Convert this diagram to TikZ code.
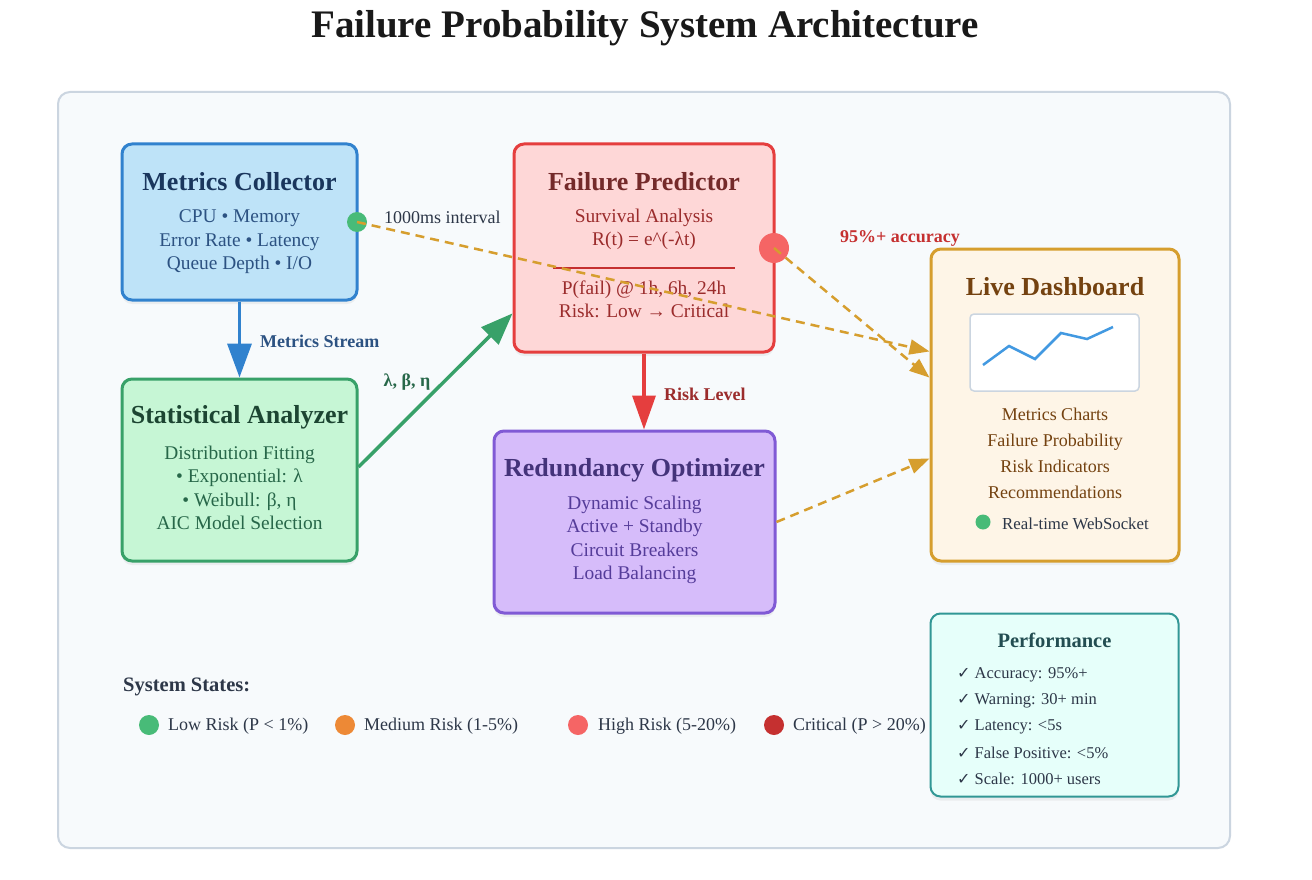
\documentclass[tikz,border=0pt]{standalone}
\usepackage{fontspec}
\setmainfont{Liberation Serif}
\newfontfamily\dvs{DejaVu Sans}
\newcommand\chkmark{{\dvs\fontsize{16}{20}\selectfont ✓}}
\usetikzlibrary{arrows.meta,calc,shadows}
\definecolor{outerF}{HTML}{F7FAFC}
\definecolor{outerS}{HTML}{CBD5E0}
\definecolor{mcF}{HTML}{BEE3F8}\definecolor{mcS}{HTML}{3182CE}\definecolor{mcT}{HTML}{1A365D}\definecolor{mcB}{HTML}{2C5282}
\definecolor{fpF}{HTML}{FED7D7}\definecolor{fpS}{HTML}{E53E3E}\definecolor{fpT}{HTML}{742A2A}\definecolor{fpB}{HTML}{9B2C2C}\definecolor{fpL}{HTML}{C53030}
\definecolor{saF}{HTML}{C6F6D5}\definecolor{saS}{HTML}{38A169}\definecolor{saT}{HTML}{1C4532}\definecolor{saB}{HTML}{276749}
\definecolor{roF}{HTML}{D6BCFA}\definecolor{roS}{HTML}{805AD5}\definecolor{roT}{HTML}{44337A}\definecolor{roB}{HTML}{553C9A}
\definecolor{ldF}{HTML}{FEF5E7}\definecolor{ldS}{HTML}{D69E2E}\definecolor{ldT}{HTML}{744210}
\definecolor{pfF}{HTML}{E6FFFA}\definecolor{pfS}{HTML}{319795}\definecolor{pfT}{HTML}{234E52}
\definecolor{txt}{HTML}{2D3748}
\definecolor{chartS}{HTML}{CBD5E0}\definecolor{chartL}{HTML}{4299E1}
\definecolor{lowC}{HTML}{48BB78}\definecolor{medC}{HTML}{ED8936}\definecolor{highC}{HTML}{F56565}\definecolor{critC}{HTML}{C53030}
\begin{document}
\begin{tikzpicture}[x=1pt,y=-1pt,
  box/.style={line width=3pt, rounded corners=10pt, inner sep=0pt,
    drop shadow={shadow xshift=0pt, shadow yshift=-4pt, opacity=0.10}},
  ttl/.style={font=\bfseries\fontsize{26}{30}\selectfont, inner sep=0pt},
  body/.style={font=\fontsize{19.4}{23.5}\selectfont, align=center, inner sep=0pt},
  lbl/.style={font=\fontsize{18}{22}\selectfont, inner sep=0pt},
  blbl/.style={font=\bfseries\fontsize{18}{22}\selectfont, inner sep=0pt},
  flow/.style={line width=3.5pt},
  dashflow/.style={draw=ldS, line width=2.5pt, dash pattern=on 9pt off 6pt,
    -{Triangle[length=20pt,width=15pt]}},
  dot/.style={circle, inner sep=0pt},
  leg/.style={font=\fontsize{18}{20}\selectfont, inner sep=0pt, anchor=west, text=txt},
  perf/.style={font=\fontsize{16.5}{20}\selectfont, inner sep=0pt, anchor=west, text=txt}
]
\useasboundingbox (0,0) rectangle (1312,880);
\fill[white] (0,0) rectangle (1312,880);

% title
\node[font=\bfseries\fontsize{39}{44}\selectfont, text=black!90, inner sep=0pt] (title) at (645,28) {Failure Probability System Architecture};

% outer container
\node[draw=outerS, fill=outerF, line width=2pt, rounded corners=12pt,
  minimum width=1172pt, minimum height=756pt, inner sep=0pt] (outer) at (644,470) {};

% boxes
\node[box, draw=mcS, fill=mcF, minimum width=235pt, minimum height=156pt] (mc) at (239.5,222) {};
\node[box, draw=fpS, fill=fpF, minimum width=260pt, minimum height=208pt] (fp) at (644,248) {};
\node[box, draw=ldS, fill=ldF, minimum width=248pt, minimum height=312pt] (ld) at (1055,405) {};
\node[box, draw=saS, fill=saF, minimum width=235pt, minimum height=182pt] (sa) at (239.5,470) {};
\node[box, draw=roS, fill=roF, minimum width=281pt, minimum height=182pt] (ro) at (634.5,522) {};
\node[box, draw=pfS, fill=pfF, line width=2pt, minimum width=248pt, minimum height=183pt] (pf) at (1054.5,705) {};

% Metrics Collector text
\node[ttl, text=mcT] (mct) at (239.5,182) {Metrics Collector};
\node[body, text=mcB] (mcb) at (239.5,242) {CPU • Memory\\Error Rate • Latency\\Queue Depth • I/O};

% Failure Predictor text
\node[ttl, text=fpT] (fpt) at (644,182) {Failure Predictor};
\node[body, text=fpB] (fpb1) at (644,229.5) {Survival Analysis\\R(t) = e\^{}(-λt)};
\draw[fpL, line width=2.5pt] (553,268) coordinate (divl) -- (735,268) coordinate (divr);
\node[body, text=fpB] (fpb2) at (644,299.5) {P(fail) @ 1h, 6h, 24h\\Risk: Low → Critical};

% Statistical Analyzer text
\node[ttl, text=saT] (sat) at (239.5,417) {Statistical Analyzer};
\node[body, text=saB] (sab) at (239.5,488) {Distribution Fitting\\• Exponential: λ\\• Weibull: β, η\\AIC Model Selection};

% Redundancy Optimizer text
\node[ttl, text=roT] (rot) at (634.5,470) {Redundancy Optimizer};
\node[body, text=roB] (rob) at (634.5,540) {Dynamic Scaling\\Active + Standby\\Circuit Breakers\\Load Balancing};

% Live Dashboard text
\node[ttl, text=ldT] (ldt) at (1055,287) {Live Dashboard};
\node[draw=chartS, fill=white, line width=1.5pt, rounded corners=4pt, inner sep=0pt,
  minimum width=169pt, minimum height=77pt] (chart) at (1054.5,352.5) {};
\draw[chartL, line width=2.5pt, line join=miter] (983,365) -- (1009,346) -- (1035,359) -- (1061,333) -- (1087,339) -- (1113,327);
\node[font=\fontsize{18}{26}\selectfont, align=center, text=ldT, inner sep=0pt] (ldb) at (1055,453) {Metrics Charts\\Failure Probability\\Risk Indicators\\Recommendations};
\node[dot, fill=lowC, minimum size=15pt] (wsdot) at (983,522) {};
\node[font=\fontsize{16.8}{20}\selectfont, anchor=west, text=txt, inner sep=0pt] (ws) at (1002,524) {Real-time WebSocket};

% Performance
\node[font=\bfseries\fontsize{20.5}{24}\selectfont, text=pfT, inner sep=0pt] (pft) at (1054.5,640) {Performance};
\node[perf] (p1) at (957,675) {\chkmark{} Accuracy: 95\%+};
\node[perf] (p2) at (957,701) {\chkmark{} Warning: 30+ min};
\node[perf] (p3) at (957,727) {\chkmark{} Latency: <5s};
\node[perf] (p4) at (957,753) {\chkmark{} False Positive: <5\%};
\node[perf] (p5) at (957,779) {\chkmark{} Scale: 1000+ users};

% solid flows
\draw[flow, draw=mcS, -{Triangle[length=34pt,width=24pt]}] (mc.south) -- (sa.north);
\node[blbl, text=mcB, anchor=west] (msl) at (260,341) {Metrics Stream};
\draw[flow, draw=saS, -{Triangle[length=32pt,width=24pt]}] ($(sa.east)+(0,-3)$) -- ($(fp.south west)!0.19!(fp.north west)$);
\node[blbl, text=saB] (lbe) at (407,382) {λ, β, η};
\draw[flow, draw=fpS, -{Triangle[length=34pt,width=23pt]}] (fp.south) -- (fp.south |- ro.north);
\node[blbl, text=fpB, anchor=west] (rll) at (664,394) {Risk Level};

% dots
\node[dot, fill=lowC, minimum size=20pt] (gd) at (357,222) {};
\node[dot, fill=highC, minimum size=30pt] (rd) at (774,248) {};

% dashed flows
\draw[dashflow] (gd.center) -- ($(ld.north west)!0.33!(ld.south west)$);
\draw[dashflow] (rd.center) -- ($(ld.north west)!0.413!(ld.south west)$);
\draw[dashflow] (ro.east) -- ($(ld.north west)!0.67!(ld.south west)$);
\node[lbl, text=txt, anchor=west] (intl) at (384,217) {1000ms interval};
\node[blbl, text=fpL, anchor=west] (accl) at (840,238) {95\%+ accuracy};

% legend
\node[font=\bfseries\fontsize{20.5}{24}\selectfont, text=txt, anchor=west, inner sep=0pt] (sst) at (123,687) {System States:};
\node[dot, fill=lowC, minimum size=20pt] (l1) at (149,725) {};
\node[leg] (l1t) at (168,726) {Low Risk (P < 1\%)};
\node[dot, fill=medC, minimum size=20pt] (l2) at (345,725) {};
\node[leg] (l2t) at (364,726) {Medium Risk (1-5\%)};
\node[dot, fill=highC, minimum size=20pt] (l3) at (578,725) {};
\node[leg] (l3t) at (598,726) {High Risk (5-20\%)};
\node[dot, fill=critC, minimum size=20pt] (l4) at (774,725) {};
\node[leg] (l4t) at (793,726) {Critical (P > 20\%)};
\end{tikzpicture}
\end{document}
